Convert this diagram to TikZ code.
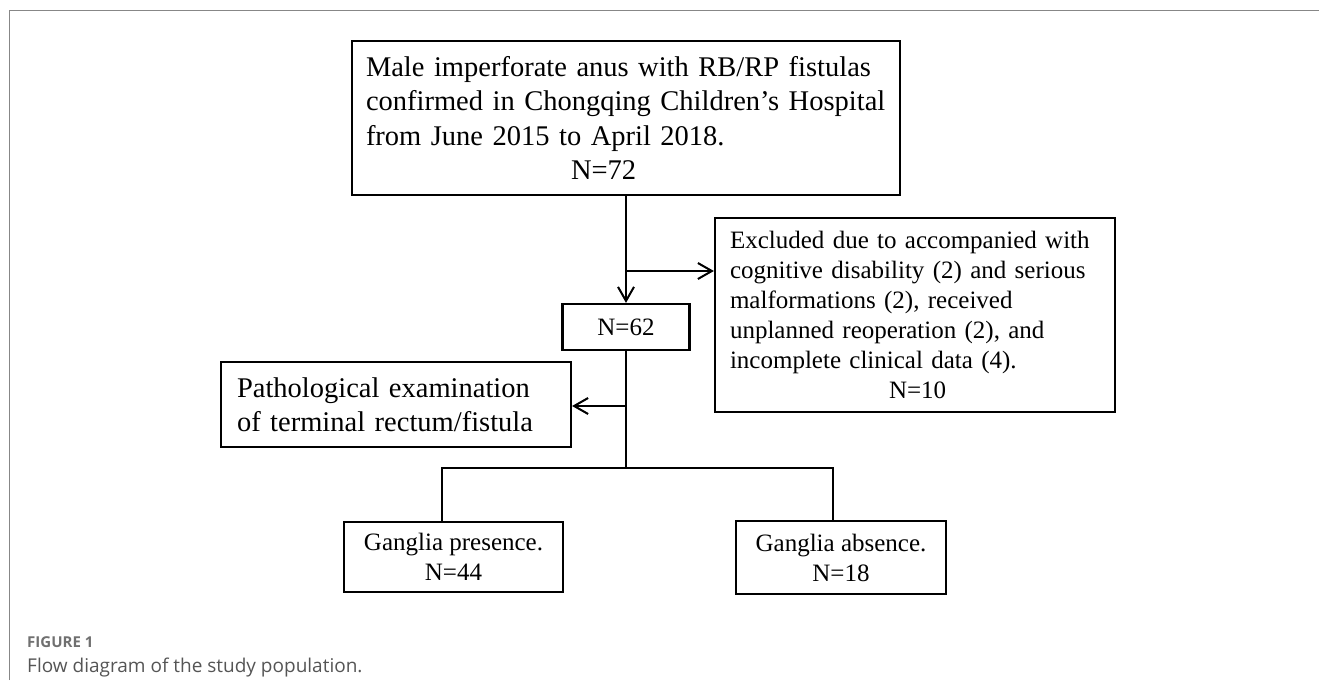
\documentclass[tikz,border=0pt]{standalone}
\usepackage{fontspec}
\setmainfont{Liberation Serif}
\newfontfamily\capfont{Open Sans}
\usetikzlibrary{arrows.meta}
\definecolor{framegray}{RGB}{135,135,135}
\definecolor{capgray}{RGB}{112,112,112}
\definecolor{captext}{RGB}{85,85,85}
\begin{document}
\begin{tikzpicture}[x=1pt,y=-1pt,
  box/.style={draw, line width=2.2pt, inner sep=0pt},
  big/.style={font=\fontsize{28.5}{34.5}\selectfont},
  small/.style={font=\fontsize{25}{30}\selectfont},
  conn/.style={line width=2pt},
  arr/.style={conn, -{Straight Barb[length=14pt,width=16pt,line width=2pt]}}
]
\useasboundingbox (0,0) rectangle (1319,680);
% frame
\draw[framegray, line width=1pt] (9,680) -- (9,10) -- (1319,10);

% boxes
\node[box, big, minimum width=548pt, minimum height=154pt, text width=520pt, align=left] (top) at (626,118)
  {Male imperforate anus with RB/RP fistulas\\confirmed in Chongqing Children’s Hospital\\from June 2015 to April 2018.\\\hspace*{205pt}N=72};
\node[box, small, minimum width=400pt, minimum height=194pt, text width=370pt, align=left] (ex) at (915,315)
  {Excluded due to accompanied with\\cognitive disability (2) and serious\\malformations (2), received\\unplanned reoperation (2), and\\incomplete clinical data (4).\\\hspace*{159pt}N=10};
\node[box, small, minimum width=127pt, minimum height=46pt, align=center] (n62) at (626,327) {N=62};
\node[box, big, minimum width=350pt, minimum height=85pt, text width=318pt, align=left] (path) at (396,404.5)
  {Pathological examination\\of terminal rectum/fistula};
\node[box, small, minimum width=219pt, minimum height=70pt, align=center] (gp) at (453.5,557)
  {Ganglia presence.\\N=44};
\node[box, small, minimum width=210pt, minimum height=73pt, align=center] (ga) at (841,557.5)
  {Ganglia absence.\\N=18};

% connectors
\coordinate (j1) at (626,271);
\coordinate (j2) at (626,406);
\coordinate (j3) at (626,468);
\coordinate (b1) at (442,468);
\coordinate (b2) at (833,468);
\draw[arr] (top.south) -- (n62.north);
\draw[arr] (j1) -- (j1 -| ex.west);
\draw[conn] (n62.south) -- (j3);
\draw[arr] (j2) -- (j2 -| path.east);
\draw[conn] (b1 |- gp.north) -- (b1) -- (b2) -- (b2 |- ga.north);

% caption
\node[anchor=base west, inner sep=0pt, text=capgray, font=\capfont\bfseries\fontsize{15}{18}\selectfont] (figlab) at (27,647) {FIGURE 1};
\node[anchor=base west, inner sep=0pt, text=captext, font=\capfont\fontsize{19}{22}\selectfont] (figcap) at (27,672) {Flow diagram of the study population.};
\end{tikzpicture}
\end{document}
